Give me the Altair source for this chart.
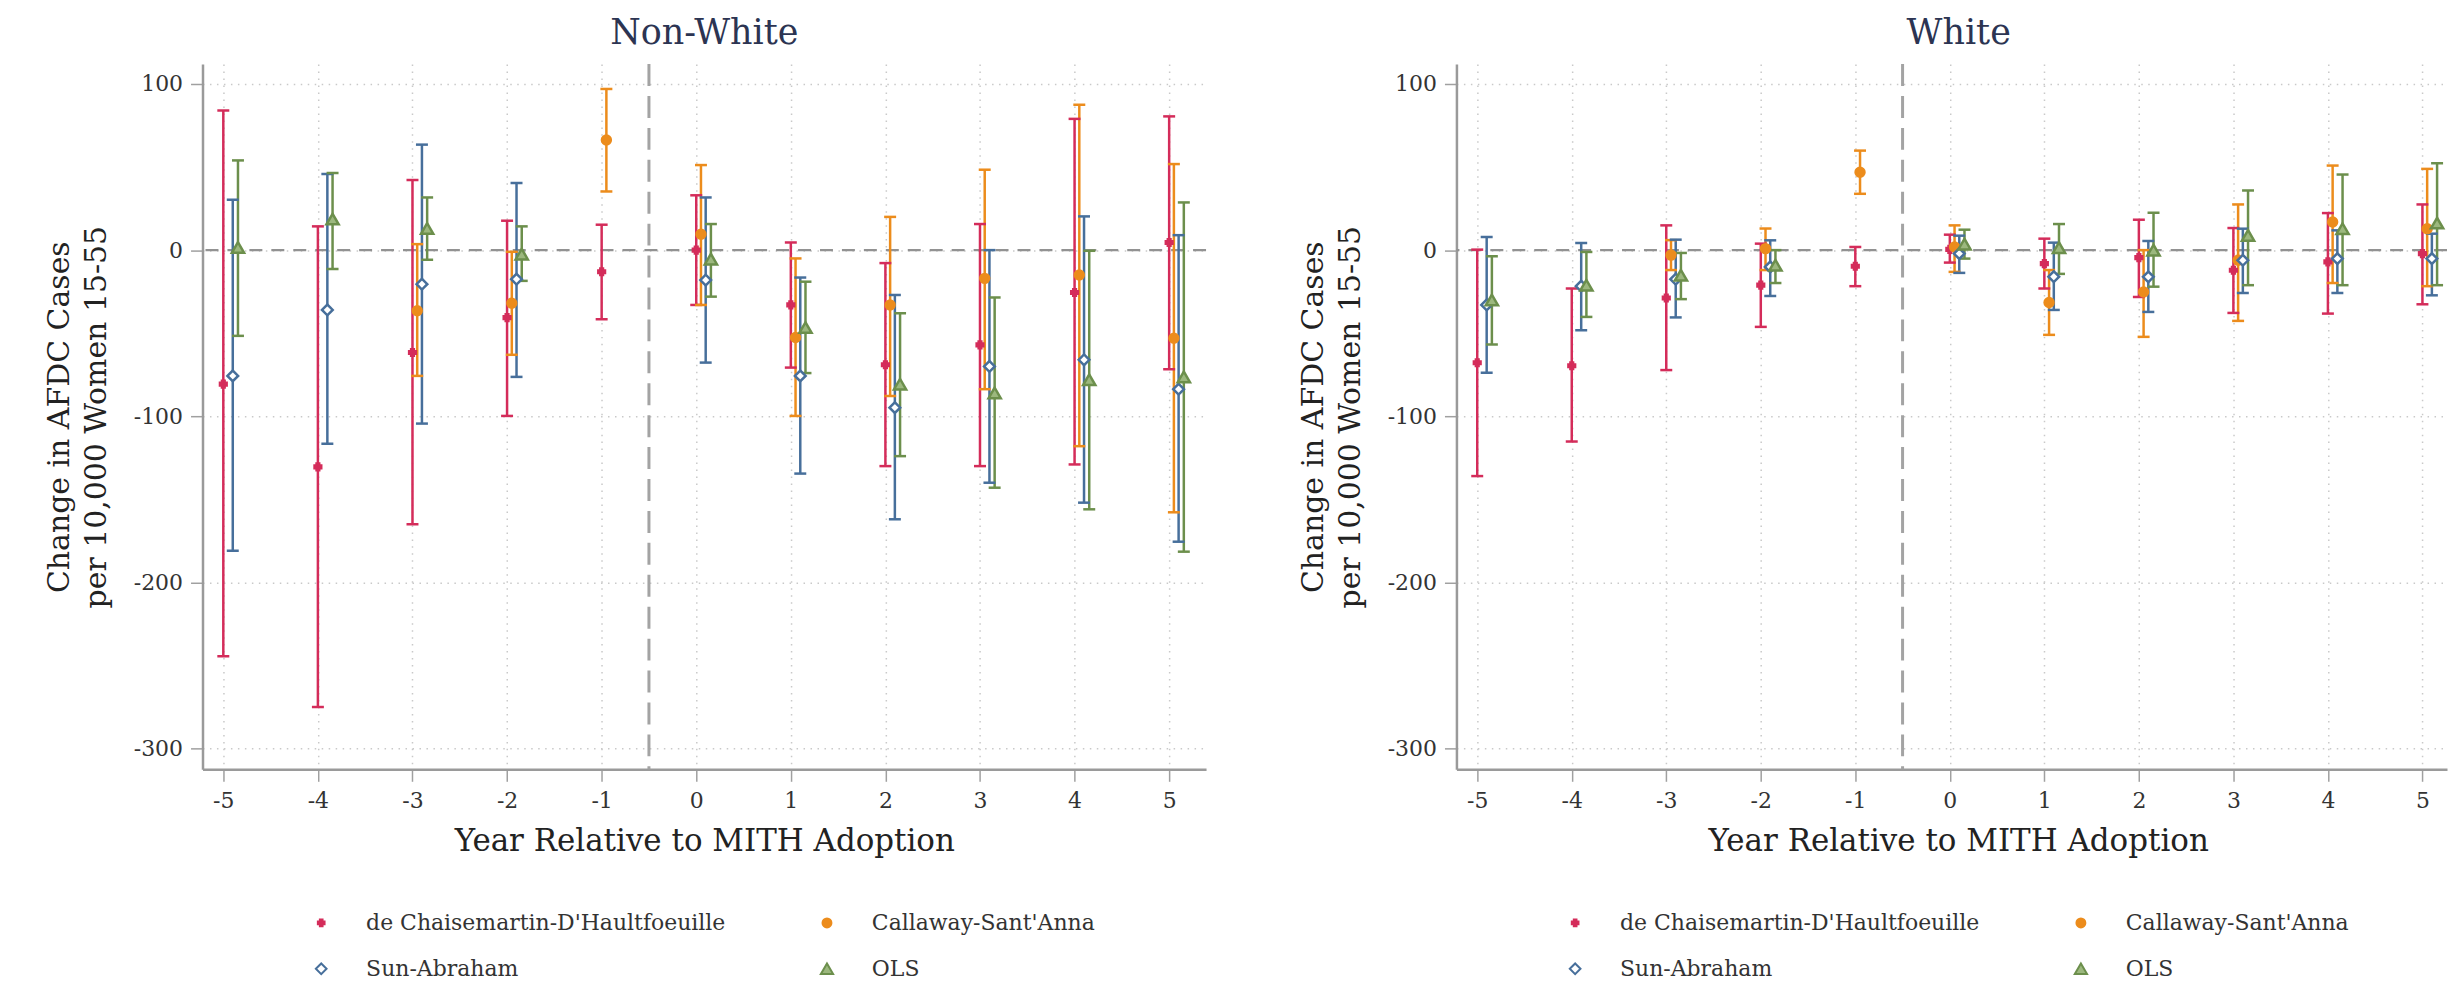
import altair as alt
import pandas as pd

years = [-5, -4, -3, -2, -1, 0, 1, 2, 3, 4, 5]
methods = ["de Chaisemartin-D'Haultfoeuille", "Callaway-Sant'Anna", "Sun-Abraham", "OLS"]

# ---------------- Non-White ----------------
nw_dc_est = [-80.7, -130.5, -61.6, -40.6, -13.0, 0.0, -33.0, -69.0, -57.0, -25.5, 4.6]
nw_dc_lo = [-244.5, -275.0, -165.0, -99.8, -41.6, -33.0, -70.7, -130.0, -130.0, -129.0, -71.7]
nw_dc_hi = [84.0, 14.3, 42.2, 17.7, 15.3, 33.0, 4.6, -7.8, 15.7, 79.0, 80.5]

nw_cs_est = [None, None, -36.5, -32.0, 66.3, 9.6, -52.6, -33.0, -17.0, -15.0, -53.0]
nw_cs_lo = [None, None, -75.7, -63.0, 35.3, -33.0, -99.8, -87.8, -83.7, -118.0, -157.8]
nw_cs_hi = [None, None, 3.6, -1.0, 97.0, 51.2, -5.0, 20.0, 48.4, 87.5, 51.8]

nw_sa_est = [-75.7, -36.0, -20.5, -17.5, None, -18.0, -75.7, -94.8, -70.0, -66.0, -83.7]
nw_sa_lo = [-181.0, -116.5, -104.4, -76.3, None, -67.7, -134.5, -162.0, -140.0, -152.0, -175.5]
nw_sa_hi = [30.3, 45.8, 63.5, 40.4, None, 31.7, -16.5, -27.0, 0.0, 20.3, 9.0]

nw_ols_est = [1.6, 18.7, 13.0, -2.4, None, -5.4, -46.6, -80.7, -86.0, -78.0, -76.3]
nw_ols_lo = [-51.6, -11.4, -5.8, -18.5, None, -28.0, -74.0, -124.0, -143.0, -156.0, -181.5]
nw_ols_hi = [54.0, 46.4, 31.7, 14.3, None, 15.7, -19.0, -38.0, -28.5, -0.4, 28.7]

# ---------------- White ----------------
w_dc_est = [-67.8, -69.6, -28.8, -21.1, -9.7, 0.5, -8.1, -4.5, -12.1, -7.1, -2.1]
w_dc_lo = [-136.0, -115.2, -72.2, -46.2, -21.7, -7.5, -23.1, -28.2, -37.8, -38.2, -32.6]
w_dc_hi = [0.3, -23.1, 14.9, 3.9, 1.9, 9.3, 6.9, 18.3, 13.3, 22.3, 27.5]

w_cs_est = [None, None, -3.0, 0.9, 46.9, 1.9, -31.5, -25.2, -6.1, 16.9, 12.9]
w_cs_lo = [None, None, -12.0, -12.0, 33.9, -13.1, -51.0, -52.2, -42.6, -19.8, -21.7]
w_cs_hi = [None, None, 6.0, 13.0, 59.9, 14.9, -12.0, 0.0, 27.5, 50.9, 48.9]

w_sa_est = [-33.0, -21.7, -17.5, -10.1, None, -2.1, -16.0, -16.1, -6.1, -5.1, -5.1]
w_sa_lo = [-73.8, -48.2, -40.5, -27.6, None, -13.7, -36.0, -37.2, -25.8, -25.8, -27.2]
w_sa_hi = [7.9, 4.3, 6.3, 5.9, None, 8.7, 4.5, 5.5, 12.9, 11.9, 9.9]

w_ols_est = [-30.0, -21.1, -15.1, -9.1, None, 3.6, 1.5, 0.0, 8.9, 12.9, 16.3]
w_ols_lo = [-56.8, -40.2, -29.5, -19.8, None, -5.1, -14.3, -22.0, -21.1, -21.1, -21.1]
w_ols_hi = [-3.7, -1.1, -1.7, 0.0, None, 12.3, 15.7, 22.5, 35.9, 45.5, 52.3]

y_ticks = [100, 0, -100, -200, -300]
ref_zero = [0]
ref_event = [-0.5]

# ---------------- styling ----------------
stroke_colors = ["#d42c5a", "#ec8c1c", "#476f9b", "#6c8f4c"]
fill_colors = ["#d42c5a", "#ec8c1c", "#ffffff", "#9cb87e"]
shapes = ["cross", "circle", "diamond", "triangle-up"]
sizes = [45, 150, 160, 150]
dodge = dict(zip(methods, [0.0, 0.05, 0.10, 0.155]))
line_color = dict(zip(methods, stroke_colors))

SERIF = "DejaVu Serif"
PLOT_H = 707
LEFT_W = 1006
RIGHT_W = 993


def build(series):
    rows = []
    for m, (est, lo, hi) in zip(methods, series):
        for yr, e, l, h in zip(years, est, lo, hi):
            if e is None:
                continue
            rows.append({"method": m, "year": yr, "est": e, "lo": l, "hi": h})
    df = pd.DataFrame(rows)
    df["xpos"] = df["year"] + df["method"].map(dodge)
    df["lcol"] = df["method"].map(line_color)
    return df


nw_df = build([(nw_dc_est, nw_dc_lo, nw_dc_hi), (nw_cs_est, nw_cs_lo, nw_cs_hi),
               (nw_sa_est, nw_sa_lo, nw_sa_hi), (nw_ols_est, nw_ols_lo, nw_ols_hi)])
w_df = build([(w_dc_est, w_dc_lo, w_dc_hi), (w_cs_est, w_cs_lo, w_cs_hi),
              (w_sa_est, w_sa_lo, w_sa_hi), (w_ols_est, w_ols_lo, w_ols_hi)])

yscale = alt.Scale(domain=[-312.5, 112], nice=False, zero=False)


def yaxis():
    return alt.Axis(values=y_ticks, title=["Change in AFDC Cases", "per 10,000 Women 15-55"],
                    labelExpr="toString(datum.value)", grid=True, tickSize=12, labelPadding=8,
                    titlePadding=22, titleLineHeight=37, titleFontSize=30)


def xaxis():
    return alt.Axis(values=years, title="Year Relative to MITH Adoption",
                    labelExpr="toString(datum.value)", grid=True, tickSize=12, labelPadding=9,
                    titlePadding=15, titleX=503, titleAlign="center", titleFontSize=31)


def legend():
    return alt.Legend(orient="none", legendX=108, legendY=850, direction="horizontal",
                      columns=2, columnPadding=90, rowPadding=24, labelLimit=700,
                      labelFont=SERIF, labelFontSize=22, labelColor="#333333",
                      labelOffset=34, symbolStrokeWidth=2, symbolOpacity=1, padding=0)


def panel(df, title, xdom, width, title_dx):
    xscale = alt.Scale(domain=xdom, nice=False, zero=False)

    def X(f):
        return alt.X(f, type="quantitative", scale=xscale, axis=xaxis())

    def Y(f):
        return alt.Y(f, type="quantitative", scale=yscale, axis=yaxis())

    col = alt.Color("lcol:N", scale=None)
    base = alt.Chart(df)

    vline = alt.Chart(pd.DataFrame({"x": ref_event})).mark_rule(
        color="#a3a3a3", strokeWidth=3, strokeDash=[22, 10]).encode(x=X("x"))
    zero = alt.Chart(pd.DataFrame({"y": ref_zero})).mark_rule(
        color="#929292", strokeWidth=2.5, strokeDash=[13, 9]).encode(y=Y("y"))

    bars = base.mark_rule(strokeWidth=2.5).encode(x=X("xpos"), y=Y("lo"), y2="hi", color=col)
    cap_lo = base.mark_tick(orient="horizontal", size=12, thickness=2.5, opacity=1).encode(
        x=X("xpos"), y=Y("lo"), color=col)
    cap_hi = base.mark_tick(orient="horizontal", size=12, thickness=2.5, opacity=1).encode(
        x=X("xpos"), y=Y("hi"), color=col)
    pts = base.mark_point(opacity=1, strokeWidth=2.5).encode(
        x=X("xpos"), y=Y("est"),
        stroke=alt.Stroke("method:N", scale=alt.Scale(domain=methods, range=stroke_colors),
                          title=None, legend=legend()),
        fill=alt.Fill("method:N", scale=alt.Scale(domain=methods, range=fill_colors),
                      title=None, legend=legend()),
        shape=alt.Shape("method:N", scale=alt.Scale(domain=methods, range=shapes),
                        title=None, legend=legend()),
        size=alt.Size("method:N", scale=alt.Scale(domain=methods, range=sizes),
                      title=None, legend=legend()),
    )
    return alt.layer(vline, zero, bars, cap_lo, cap_hi, pts).properties(
        width=width, height=PLOT_H,
        title=alt.TitleParams(text=title, font=SERIF, fontSize=35, fontWeight="normal",
                              color="#2c3452", anchor="middle", frame="group", offset=12, dx=title_dx),
    )


left = panel(nw_df, "Non-White", [-5.22, 5.39], LEFT_W, 0)
right = panel(w_df, "White", [-5.22, 5.26], RIGHT_W, 7)

chart = alt.hconcat(left, right, spacing=90).resolve_scale(
    x="independent", y="independent", stroke="independent",
    fill="independent", shape="independent", size="independent",
).configure(
    background="white", font=SERIF,
    padding={"left": 44, "top": 14, "right": 0, "bottom": 0},
).configure_view(
    stroke="transparent",
).configure_axis(
    domainColor="#9a9a9a", domainWidth=2.5, tickColor="#a0a0a0", tickWidth=1.5,
    gridColor="#c9c9c9", gridDash=[1.5, 5.5], gridWidth=1.5,
    labelFont=SERIF, labelFontSize=22, labelColor="#333333",
    titleFont=SERIF, titleFontWeight="normal", titleColor="#222222",
).configure_legend(
    labelFont=SERIF,
)

chart.save("out.html", embed_options={"renderer": "svg", "actions": False})
